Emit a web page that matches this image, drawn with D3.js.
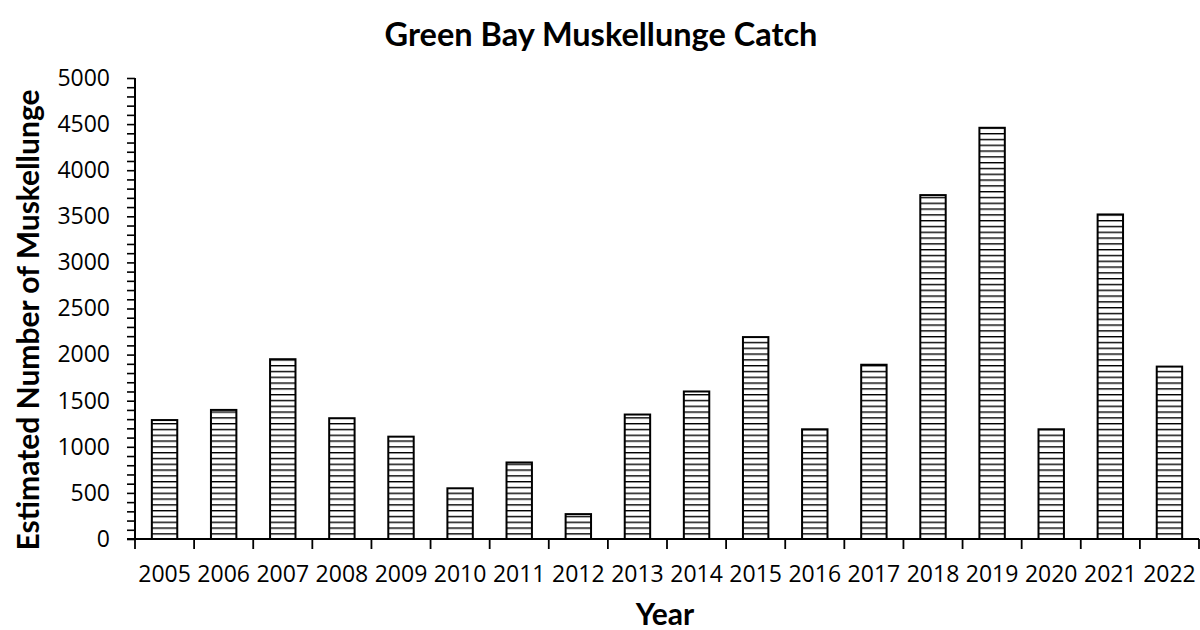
<!DOCTYPE html>
<html>
<head>
<meta charset="utf-8">
<script src="https://cdn.jsdelivr.net/npm/d3@7"></script>
<style>
  html, body { margin: 0; padding: 0; background: #fff; }
  svg { display: block; }
  text { font-family: Lato, "Open Sans", sans-serif; fill: #000; }
</style>
</head>
<body>
<svg id="chart" width="1200" height="630"></svg>
<script>
const years = ["2005","2006","2007","2008","2009","2010","2011","2012","2013","2014","2015","2016","2017","2018","2019","2020","2021","2022"];
const catchValues = [1290, 1400, 1950, 1310, 1110, 550, 830, 270, 1350, 1600, 2190, 1190, 1890, 3730, 4460, 1190, 3520, 1870];
const yTicks = [0, 500, 1000, 1500, 2000, 2500, 3000, 3500, 4000, 4500, 5000];
const titleText = "Green Bay Muskellunge Catch";
const xTitle = "Year";
const yTitle = "Estimated Number of Muskellunge";

const svg = d3.select("#chart");
const m = { left: 135, right: 1199, top: 78, bottom: 539 };
const tickFont = "'Open Sans', Lato, sans-serif";

const x = d3.scaleBand().domain(years).range([m.left, m.right]).paddingInner(0.57).paddingOuter(0.285);
const y = d3.scaleLinear().domain([0, 5000]).range([m.bottom, m.top]);

// hatch pattern
const defs = svg.append("defs");
const pat = defs.append("pattern")
  .attr("id", "hatch").attr("patternUnits", "userSpaceOnUse")
  .attr("x", 0).attr("y", m.bottom).attr("width", 10).attr("height", 5.8);
pat.append("rect").attr("width", 10).attr("height", 5.8).attr("fill", "#fff");
pat.append("line").attr("x1", 0).attr("x2", 10).attr("y1", 0.7).attr("y2", 0.7)
  .attr("stroke", "#000").attr("stroke-width", 1.4);

// bars
svg.append("g").selectAll("rect").data(years).join("rect")
  .attr("x", d => x(d))
  .attr("y", (d, i) => y(catchValues[i]))
  .attr("width", x.bandwidth())
  .attr("height", (d, i) => y(0) - y(catchValues[i]))
  .attr("fill", "url(#hatch)")
  .attr("stroke", "#000").attr("stroke-width", 2);

// y axis: minor ticks every 100
const yMinor = d3.range(0, 5001, 100);
const yAxisG = svg.append("g").attr("transform", `translate(${m.left},0)`)
  .call(d3.axisLeft(y).tickValues(yMinor).tickSize(8).tickFormat(""));
yAxisG.select(".domain").attr("stroke", "#000").attr("stroke-width", 2)
  .attr("d", `M0,${m.top}V${m.bottom}`);
yAxisG.selectAll(".tick line").attr("stroke", "#000").attr("stroke-width", 1.6);

const yLab = svg.append("g").attr("transform", `translate(${m.left},0)`)
  .call(d3.axisLeft(y).tickValues(yTicks).tickSize(0).tickPadding(25).tickFormat(d3.format("d")));
yLab.select(".domain").remove();
yLab.selectAll("text").style("font-size", "23px").style("font-family", tickFont).attr("fill", "#000");

// x axis: ticks at category boundaries
const bounds = years.map(d => x(d) - x.step() * x.paddingInner() / 2).concat([m.right]);
const xg = svg.append("g");
xg.append("line").attr("x1", m.left - 8).attr("x2", m.right).attr("y1", m.bottom).attr("y2", m.bottom)
  .attr("stroke", "#000").attr("stroke-width", 2);
xg.selectAll("line.tk").data(bounds).join("line").attr("class", "tk")
  .attr("x1", d => d).attr("x2", d => d).attr("y1", m.bottom).attr("y2", m.bottom + 10)
  .attr("stroke", "#000").attr("stroke-width", 1.8);
xg.selectAll("text").data(years).join("text")
  .attr("x", d => x(d) + x.bandwidth() / 2).attr("y", 582)
  .attr("text-anchor", "middle").style("font-size", "23px").style("font-family", tickFont).text(d => d);

// titles
svg.append("text").attr("x", 601).attr("y", 46).attr("text-anchor", "middle")
  .style("font-size", "32.5px").style("font-weight", "bold").text(titleText);
svg.append("text").attr("x", (m.left + m.right) / 2 - 2).attr("y", 625).attr("text-anchor", "middle")
  .style("font-size", "30px").style("font-weight", "bold").text(xTitle);
svg.append("text").attr("transform", "translate(39,320) rotate(-90)").attr("text-anchor", "middle")
  .style("font-size", "30px").style("font-weight", "bold").text(yTitle);
</script>
</body>
</html>
